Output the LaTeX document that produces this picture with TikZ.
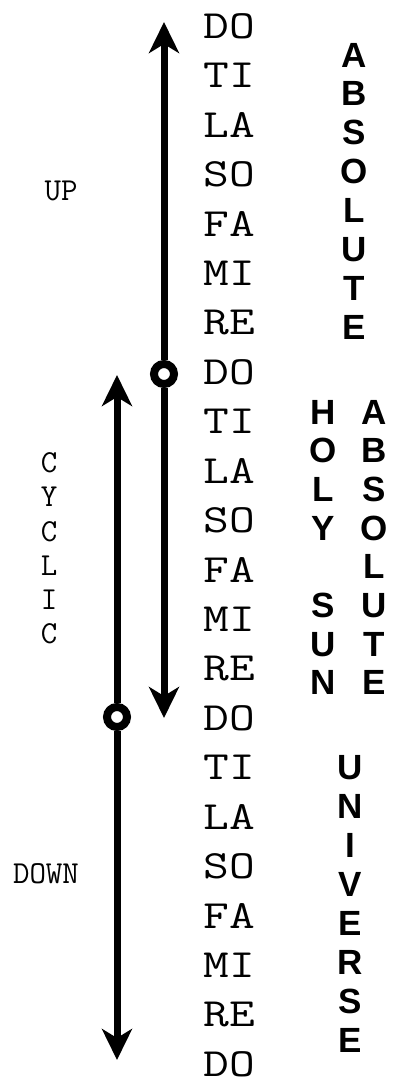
\documentclass[tikz,border=0pt]{standalone}
\usepackage{fontspec}
\usepackage{graphicx}
\usepackage{tikz}
\usetikzlibrary{arrows.meta, positioning}
\newfontfamily\boldsans{Liberation Sans}
\newcommand{\stretchtt}[1]{\scalebox{1.25}[1]{#1}}
\tikzset{
  note/.style={font=\ttfamily\fontsize{40}{40}\selectfont, inner sep=0pt},
  bigletter/.style={font=\boldsans\bfseries\fontsize{35}{35}\selectfont, inner sep=0pt},
  sidelabel/.style={font=\ttfamily\fontsize{32}{32}\selectfont, inner sep=0pt},
  junc/.style={circle, draw, fill=white, line width=8pt,
    minimum size=20pt, inner sep=0pt},
  arrow/.style={-{Stealth[length=31pt, width=30pt, inset=9pt]}, line width=7pt}
}

\begin{document}
\begin{tikzpicture}[x=1pt, y=-1pt]
  \useasboundingbox (0,0) rectangle (393,1085);

  % scale of notes
  \foreach \nm [count=\i from 0] in {DO,TI,LA,SO,FA,MI,RE,DO,TI,LA,SO,FA,MI,RE,DO,TI,LA,SO,FA,MI,RE,DO}
    \node[note] (n\i) at (229, {26+49.43*\i}) {\stretchtt{\nm}};

  % vertical words
  \foreach \ch [count=\k from 0] in {A,B,S,O,L,U,T,E}
    \node[bigletter] (absa\k) at (354, {55+38.9*\k}) {\ch};
  \foreach \ch/\k in {H/0,O/1,L/2,Y/3,S/5,U/6,N/7}
    \node[bigletter] (holy\k) at (323, {412+38.7*\k}) {\ch};
  \foreach \ch [count=\k from 0] in {A,B,S,O,L,U,T,E}
    \node[bigletter] (absb\k) at (374, {412+38.7*\k}) {\ch};
  \foreach \ch [count=\k from 0] in {U,N,I,V,E,R,S,E}
    \node[bigletter] (univ\k) at (350, {768+38.9*\k}) {\ch};

  % side labels
  \node[sidelabel] (up) at (61,191) {UP};
  \foreach \ch [count=\k from 0] in {C,Y,C,L,I,C}
    \node[sidelabel] (cyc\k) at (49, {463+34.2*\k}) {\ch};
  \node[sidelabel] (down) at (46,874) {DOWN};

  % junctions and arrows
  \node[junc] (j1) at (164,374) {};
  \node[junc] (j2) at (117,717) {};
  \coordinate (uptip) at (164,22);
  \coordinate (cycdowntip) at (164,718);
  \coordinate (cycuptip) at (117,375);
  \coordinate (downtip) at (117,1060);

  \draw[arrow] (j1) -- (uptip);
  \draw[arrow] (j1) -- (cycdowntip);
  \draw[arrow] (j2) -- (cycuptip);
  \draw[arrow] (j2) -- (downtip);
\end{tikzpicture}
\end{document}
